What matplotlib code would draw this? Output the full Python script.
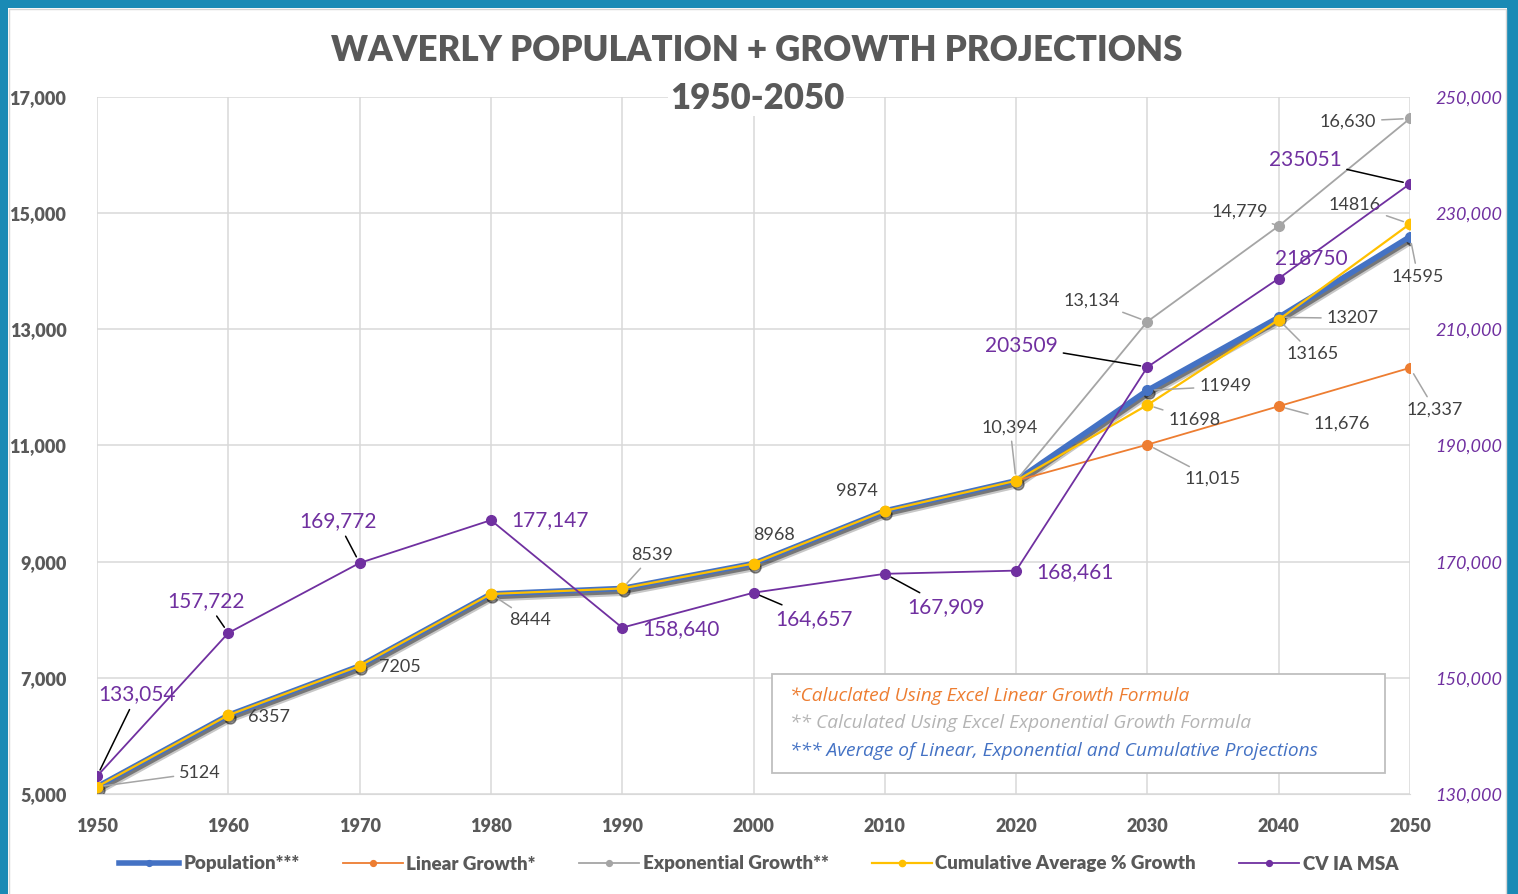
import numpy as np
import matplotlib.pyplot as plt
import matplotlib.transforms as mtransforms
from matplotlib.patches import Rectangle

# ---- data ----
years = [1950, 1960, 1970, 1980, 1990, 2000, 2010, 2020, 2030, 2040, 2050]
population = [5124, 6357, 7205, 8444, 8539, 8968, 9874, 10394, 11949, 13207, 14595]
cumulative = [5124, 6357, 7205, 8444, 8539, 8968, 9874, 10394, 11698, 13165, 14816]
proj_years = [2020, 2030, 2040, 2050]
linear = [10394, 11015, 11676, 12337]
exponential = [10394, 13134, 14779, 16630]
msa = [133054, 157722, 169772, 177147, 158640, 164657, 167909, 168461, 203509, 218750, 235051]

BLUE = '#4472C4'
ORANGE = '#ED7D31'
GRAY = '#A5A5A5'
YELLOW = '#FFC000'
PURPLE = '#7030A0'
TXT = '#595959'
LBL = '#404040'
FRAME = '#1a8ab5'

plt.rcParams['font.family'] = ['Lato', 'DejaVu Sans']

fig = plt.figure(figsize=(15.18, 8.94), dpi=100)
ax = fig.add_axes([97/1518, 1-794/894, 1313/1518, 697/894])
ax2 = ax.twinx()

# soft drop shadow under the historic lines
shad = mtransforms.offset_copy(ax.transData, fig=fig, x=1.5, y=-3, units='dots')
ax.plot(years, population, color='black', lw=6.5, alpha=0.22, transform=shad, zorder=2,
        solid_capstyle='round')
ax.plot(years, population, color='black', lw=3.5, alpha=0.4, marker='o', ms=8,
        transform=shad, zorder=2, solid_capstyle='round')

ax.plot(years, population, color=BLUE, lw=4, marker='o', ms=7, label='Population***', zorder=3)
ax.plot(proj_years, linear, color=ORANGE, lw=1.3, marker='o', ms=7, label='Linear Growth*', zorder=3)
ax.plot(proj_years, exponential, color=GRAY, lw=1.3, marker='o', ms=7, label='Exponential Growth**', zorder=3)
ax.plot(years, cumulative, color=YELLOW, lw=1.6, marker='o', ms=7.5,
        label='Cumulative Average % Growth', zorder=4)
ax2.plot(years, msa, color=PURPLE, lw=1.3, marker='o', ms=7, label='CV IA MSA', zorder=5)

ax.set_xlim(1950, 2050)
ax.set_ylim(5000, 17000)
ax2.set_ylim(130000, 250000)
ax.set_xticks(years)
ax.set_yticks(np.arange(5000, 17001, 2000))
ax2.set_yticks(np.arange(130000, 250001, 20000))
ax.yaxis.set_major_formatter(plt.FuncFormatter(lambda v, p: f'{int(v):,}'))
ax2.yaxis.set_major_formatter(plt.FuncFormatter(lambda v, p: f'{int(v):,}'))
ax.grid(True, color='#d9d9d9', lw=1.1)
ax.set_axisbelow(True)
for a in (ax, ax2):
    for s in a.spines.values():
        s.set_visible(False)
ax.spines['bottom'].set_visible(True)
ax.spines['bottom'].set_color('#d9d9d9')
ax.tick_params(axis='both', length=0, colors=TXT, labelsize=13)
ax.tick_params(axis='x', pad=17)
ax.tick_params(axis='y', pad=22)
for t in ax.get_xticklabels() + ax.get_yticklabels():
    t.set_fontweight('heavy')
ax2.tick_params(axis='y', length=0, colors=PURPLE, labelsize=13, pad=18)
for t in ax2.get_yticklabels():
    t.set_fontstyle('italic')


def label(a, x, y, text, dx, dy, color, size, leader, lcolor):
    kw = {}
    if leader:
        kw['arrowprops'] = dict(arrowstyle='-', color=lcolor, lw=1.1, shrinkA=2, shrinkB=5)
    a.annotate(text, (x, y), xytext=(dx, dy), textcoords='offset pixels',
               ha='center', va='center', color=color, fontsize=size, zorder=6, **kw)


# label offsets in pixels: index -> (dx, dy, leader line)
pop_off = {0: (103, 14, True), 1: (41, -2, False), 2: (40, -1, False), 3: (39, -26, True),
           4: (30, 33, True), 5: (21, 29, False), 6: (-28, 20, False), 7: (-6, 53, True),
           8: (78, 4, True), 9: (74, -1, True), 10: (8, -40, True)}
for i, (dx, dy, ld) in pop_off.items():
    txt = f'{population[i]:,}' if i == 7 else str(population[i])
    label(ax, years[i], population[i], txt, dx, dy, LBL, 13, ld, GRAY)

cum_off = {8: (47, -15, True), 9: (34, -34, True), 10: (-55, 19, True)}
for i, (dx, dy, ld) in cum_off.items():
    label(ax, years[i], cumulative[i], str(cumulative[i]), dx, dy, LBL, 13, ld, GRAY)

lin_off = [(65, -34), (63, -17), (25, -42)]
for (dx, dy), x, v in zip(lin_off, proj_years[1:], linear[1:]):
    label(ax, x, v, f'{v:,}', dx, dy, LBL, 13, True, GRAY)

exp_off = [(-56, 21), (-39, 14), (-62, -3)]
for (dx, dy), x, v in zip(exp_off, proj_years[1:], exponential[1:]):
    label(ax, x, v, f'{v:,}', dx, dy, LBL, 13, True, GRAY)

msa_off = [(40, 82, True), (-22, 32, True), (-22, 42, True), (59, 0, False), (59, -1, False),
           (61, -26, True), (61, -33, True), (59, -1, False), (-126, 21, True), (33, 20, False),
           (-105, 24, True)]
for i, (dx, dy, ld) in enumerate(msa_off):
    txt = f'{msa[i]:,}' if i < 8 else str(msa[i])
    label(ax2, years[i], msa[i], txt, dx, dy, PURPLE, 15, ld, 'black')

# ---- notes box ----
ax.add_patch(Rectangle((0.514, 0.030), 0.467, 0.142, transform=ax.transAxes,
                       facecolor='white', edgecolor='#bfbfbf', lw=1.3, zorder=7))
notes = [('*Caluclated Using Excel Linear Growth Formula', ORANGE, 0.141),
         ('** Calculated Using Excel Exponential Growth Formula', '#b4b4b4', 0.102),
         ('*** Average of Linear, Exponential and Cumulative Projections', BLUE, 0.062)]
for txt, c, yy in notes:
    ax.text(0.528, yy, txt, transform=ax.transAxes, color=c, fontsize=13.8, family='Open Sans',
            style='italic', va='center', ha='left', zorder=8)

# ---- title ----
fig.text(0.4987, 0.944, 'WAVERLY POPULATION + GROWTH PROJECTIONS', ha='center', va='center',
         fontsize=25, fontweight='heavy', color=TXT)
fig.text(0.4987, 0.890, '1950-2050', ha='center', va='center', fontsize=25, fontweight='heavy',
         color=TXT, bbox=dict(facecolor='white', edgecolor='none', pad=1))

# ---- legend ----
h1, l1 = ax.get_legend_handles_labels()
h2, l2 = ax2.get_legend_handles_labels()
leg = fig.legend(h1 + h2, l1 + l2, loc='center', bbox_to_anchor=(0.5, 1-864/894), ncol=5,
                 frameon=False, fontsize=13.5, handlelength=3.2, columnspacing=2.3,
                 handletextpad=0.2, markerscale=0.6)
for t in leg.get_texts():
    t.set_color(TXT)
    t.set_fontweight('heavy')

# ---- frame (left, top, right) ----
for x0, y0, w, h in [(0, 0, 8/1518, 1), (0, 1-8/894, 1, 8/894), (1507/1518, 0, 11/1518, 1)]:
    fig.patches.append(Rectangle((x0, y0), w, h, transform=fig.transFigure,
                                 facecolor=FRAME, edgecolor='none', zorder=10))
fig.patches.append(Rectangle((9/1518, -0.01), 1497/1518, 1-9/894 + 0.01, transform=fig.transFigure,
                             fill=False, edgecolor='#d6d6d6', lw=1, zorder=10))

fig.savefig('out.png', dpi=100)
